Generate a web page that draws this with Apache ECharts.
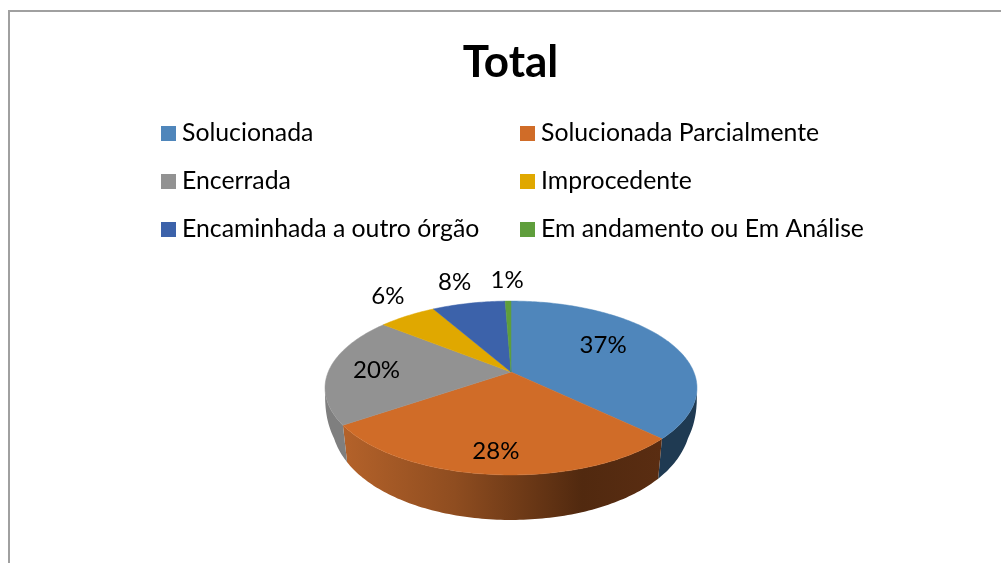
<!DOCTYPE html>
<html>
<head>
<meta charset="utf-8">
<style>html,body{margin:0;padding:0;background:#fff}#c{width:1001px;height:563px}</style>
<script src="https://cdn.jsdelivr.net/npm/echarts@6/dist/echarts.min.js"></script>
</head>
<body>
<div id="c"></div>
<script>
const titleText = 'Total';
const categories = ['Solucionada','Solucionada Parcialmente','Encerrada','Improcedente','Encaminhada a outro órgão','Em andamento ou Em Análise'];
const values = [37.2, 28.2, 20.4, 6.0, 7.6, 0.6];
const colors = ['#4f86bb','#d06c28','#929292','#e0a800','#3c62aa','#5f9e3c'];

// layout of the tilted disc
const FONT = 'Lato, "Open Sans", sans-serif';
const CX = 511, TOP_Y = 372, D_TOP = 182.8, A_TOP = 84, K = -0.184, DEPTH = 45, SIL_Y = 0.18, DEPTH_POW = 0.26, BOT_SCALE = 0.975, LABEL_DY = 1;
const labelRadius = [0.64, 0.80, 0.74, 1.36, 1.41, 1.39];
const labelShift = [-10, 0.4, 0, 3.8, 0, 0];
const legendSlots = [[161,0],[520,0],[161,1],[520,1],[161,2],[520,2]];
const LEG_TOP = 121, LEG_ROW = 48;

const total = values.reduce((a,b)=>a+b,0);
const starts = []; values.reduce((a,b,i)=>{starts[i]=a;return a+b;},0);
const rad = v => v/total*Math.PI*2;
function proj(t, r, bottom){
  const X = r*Math.sin(t), Y = -r*Math.cos(t), den = 1+K*Y;
  const x = CX + D_TOP*X/den, y = TOP_Y + A_TOP*Y/den;
  if(!bottom) return [x,y];
  const q = Math.max(0,(Y-SIL_Y)/(1-SIL_Y));
  return [CX + (x-CX)*(1-(1-BOT_SCALE)*Math.min(1,q*4)), y + DEPTH*Math.pow(q,DEPTH_POW)];
}
function arc(t1,t2,bottom){
  const n = Math.max(2, Math.ceil((t2-t1)/(Math.PI/180))), p=[];
  for(let i=0;i<=n;i++) p.push(proj(t1+(t2-t1)*i/n,1,bottom));
  return p;
}
const G = (stops)=>new echarts.graphic.LinearGradient(0,0,1,0,stops.map((c)=>({offset:c[0],color:c[1]})));
const sideFill = [
  ()=>'#1f3a52',
  ()=>G([[0,'#b4622a'],[0.35,'#8f4d20'],[0.75,'#51290f'],[1,'#5a2d12']]),
  ()=>'#7f7f7f',
  ()=>'#8a6800',()=>'#243c69',()=>'#3a6124'
];

const sideSeries = {
  type:'custom', name:'lados', coordinateSystem:'none', silent:true, z:2,
  data: values.map((v,i)=>[i,v]),
  renderItem(params, api){
    const i = api.value(0), t1 = rad(starts[i]), t2 = rad(starts[i]+values[i]);
    const pts = arc(t1,t2,false).concat(arc(t1,t2,true).reverse());
    return {type:'polygon', shape:{points:pts}, style:{fill:sideFill[i]()}};
  }
};
const topSeries = categories.map((name,i)=>({
  type:'custom', name, coordinateSystem:'none', silent:true, z:3+i,
  itemStyle:{color:colors[i]},
  data:[[i,values[i]]],
  renderItem(params, api){
    const k = api.value(0), v = api.value(1), t1 = rad(starts[k]), t2 = rad(starts[k]+v);
    const pts = [[CX,TOP_Y]].concat(arc(t1,t2,false));
    const lp = proj((t1+t2)/2 + labelShift[k]*Math.PI/180, labelRadius[k], false);
    return {type:'group', children:[
      {type:'polygon', shape:{points:pts}, style:{fill:colors[k], stroke:colors[k], lineWidth:0.5}},
      {type:'text', z2:50, x:lp[0], y:lp[1]+LABEL_DY, style:{text:Math.round(v/total*100)+'%', fill:'#000', font:'24px '+FONT, align:'center', verticalAlign:'middle'}}
    ]};
  }
}));

const chart = echarts.init(document.getElementById('c'), null, {renderer:'canvas'});
chart.setOption({
  animation:false,
  backgroundColor:'#fff',
  title:{text:titleText, left:505.5, top:36, textAlign:'center', textStyle:{fontFamily:FONT, fontSize:44, fontWeight:'bold', color:'#000'}},
  legend: categories.map((name,i)=>({
    data:[name], left:legendSlots[i][0], top:LEG_TOP+legendSlots[i][1]*LEG_ROW,
    icon:'rect', itemWidth:15, itemHeight:15, itemGap:0, selectedMode:false, padding:0,
    textStyle:{fontFamily:FONT, fontSize:24.8, color:'#000', padding:[0,0,0,1]}
  })),
  graphic:[
    {type:'line', shape:{x1:9,y1:11,x2:9,y2:563}, style:{stroke:'#a0a0a0', lineWidth:2}, silent:true},
    {type:'line', shape:{x1:8,y1:11,x2:1001,y2:11}, style:{stroke:'#a0a0a0', lineWidth:2}, silent:true}
  ],
  series:[sideSeries].concat(topSeries)
});
</script>
</body>
</html>
